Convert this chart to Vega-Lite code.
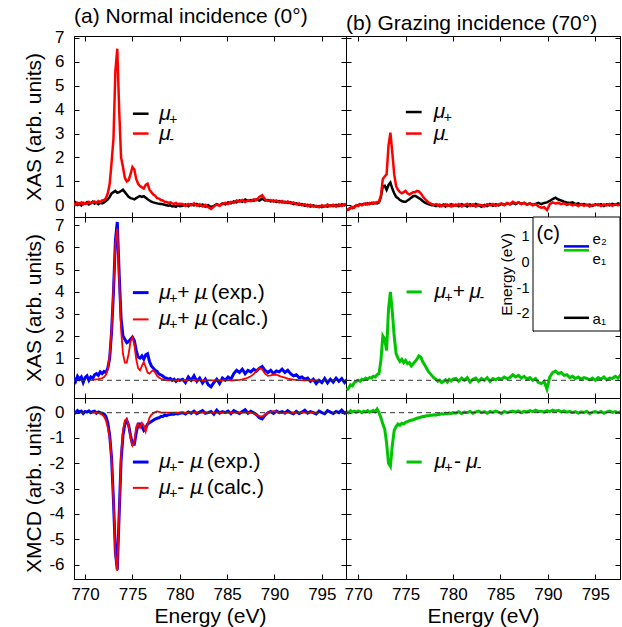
{
"$schema": "https://vega.github.io/schema/vega-lite/v6.json",
"background": "white",
"padding": {"left": 22, "top": 5, "right": 5, "bottom": 2},
"config": {
  "font": "Liberation Sans",
  "view": {"stroke": "black", "strokeWidth": 1},
  "concat": {"spacing": 0},
  "axis": {"grid": false, "domainColor": "black", "tickColor": "black", "tickSize": -5, "labelFont": "Liberation Sans", "labelFontSize": 17, "labelColor": "black", "titleFont": "Liberation Sans", "titleFontSize": 21, "titleFontWeight": "normal", "titleColor": "black", "minExtent": 0},
  "axisX": {"labelPadding": 12},
  "axisY": {"labelPadding": 15},
  "title": {"font": "Liberation Sans", "fontSize": 21, "fontWeight": "normal", "anchor": "start", "frame": "group", "offset": 2, "color": "black"},
  "text": {"font": "Liberation Sans", "color": "black"}
},
"data": {"values": [
{"e":768.8,"a":0.05,"b":0.08,"c":0.1,"f":0.05,"h":-0.2,"i":-0.22,"j":-0.45,"k":0.05},
{"e":769.0,"a":0.12,"b":0.02,"c":-0.05,"f":0.0,"h":-0.18,"i":-0.15,"j":-0.35,"k":0.0},
{"e":769.2,"a":0.02,"b":0.1,"c":0.18,"f":0.08,"h":-0.1,"i":-0.12,"j":-0.2,"k":0.08},
{"e":769.4,"a":0.08,"b":0.05,"c":0.05,"f":0.02,"h":-0.12,"i":-0.08,"j":-0.25,"k":0.03},
{"e":769.6,"a":0.0,"b":0.12,"c":0.15,"f":0.06,"h":-0.05,"i":-0.1,"j":-0.1,"k":0.06},
{"e":769.8,"a":0.1,"b":0.04,"c":-0.1,"f":-0.03,"h":-0.02,"i":0.0,"j":-0.05,"k":0.02},
{"e":770.0,"a":0.06,"b":0.1,"c":0.12,"f":0.05,"h":0.0,"i":-0.03,"j":0.0,"k":0.07},
{"e":770.2,"a":0.13,"b":0.06,"c":0.2,"f":0.02,"h":0.05,"i":0.04,"j":-0.05,"k":0.04},
{"e":770.4,"a":0.04,"b":0.14,"c":0.0,"f":0.07,"h":0.02,"i":0.0,"j":0.05,"k":0.0},
{"e":770.6,"a":0.09,"b":0.08,"c":0.15,"f":0.0,"h":0.06,"i":0.05,"j":0.02,"k":0.06},
{"e":770.8,"a":0.15,"b":0.12,"c":0.08,"d":0.02,"f":0.04,"g":0.0,"h":0.04,"i":0.08,"j":0.1,"k":0.03},
{"e":771.0,"a":0.07,"b":0.16,"c":0.25,"d":0.03,"f":0.06,"g":0.0,"h":0.08,"i":0.03,"j":0.05,"k":0.08},
{"e":771.2,"a":0.12,"b":0.1,"c":0.3,"d":0.04,"f":-0.02,"g":-0.01,"h":0.05,"i":0.1,"j":0.12,"k":0.02},
{"e":771.4,"a":0.05,"b":0.18,"c":0.22,"d":0.05,"f":0.03,"g":-0.02,"h":0.1,"i":0.06,"j":0.1,"k":0.05},
{"e":771.6,"a":0.1,"b":0.13,"c":0.38,"d":0.07,"f":0.0,"g":-0.04,"h":0.07,"i":0.12,"j":0.18,"k":0.09},
{"e":771.8,"a":0.08,"b":0.2,"c":0.3,"d":0.1,"f":-0.02,"g":-0.08,"h":0.1,"i":0.08,"j":0.15,"k":0.04},
{"e":772.0,"a":0.12,"b":0.22,"c":0.4,"d":0.15,"f":-0.05,"g":-0.15,"h":0.08,"i":0.14,"j":0.25,"k":0.14},
{"e":772.2,"a":0.18,"b":0.3,"c":0.35,"d":0.25,"f":-0.15,"g":-0.3,"h":0.12,"i":0.15,"j":0.3,"k":0.0},
{"e":772.4,"a":0.25,"b":0.5,"c":0.55,"d":0.5,"f":-0.4,"g":-0.6,"h":0.35,"i":0.4,"j":0.9,"k":-0.2},
{"e":772.6,"a":0.35,"b":0.9,"c":1.0,"d":1.1,"f":-0.9,"g":-1.0,"h":0.8,"i":1.1,"j":2.0,"k":-0.45},
{"e":772.8,"a":0.5,"b":1.8,"c":2.2,"d":2.3,"f":-1.8,"g":-1.8,"h":0.82,"i":1.2,"j":1.85,"k":-0.65},
{"e":773.0,"a":0.55,"b":2.8,"c":4.0,"d":4.2,"f":-3.5,"g":-3.5,"h":0.65,"i":1.3,"j":1.35,"k":-1.2},
{"e":773.2,"a":0.6,"b":5.6,"c":6.3,"d":6.2,"f":-5.5,"g":-5.6,"h":0.85,"i":2.5,"j":3.2,"k":-2.0},
{"e":773.4,"a":0.52,"b":6.55,"c":7.15,"d":6.85,"f":-6.2,"g":-6.25,"h":0.95,"i":3.04,"j":3.99,"k":-2.12},
{"e":773.6,"a":0.55,"b":4.0,"c":4.8,"d":4.6,"f":-4.0,"g":-4.0,"h":0.7,"i":2.2,"j":3.1,"k":-1.3},
{"e":773.8,"a":0.6,"b":2.0,"c":2.8,"d":2.3,"f":-1.9,"g":-1.7,"h":0.5,"i":1.3,"j":2.0,"k":-0.7},
{"e":774.0,"a":0.65,"b":1.6,"c":2.0,"d":1.2,"f":-0.9,"g":-0.7,"h":0.35,"i":0.8,"j":1.2,"k":-0.55},
{"e":774.2,"a":0.55,"b":1.15,"c":1.85,"d":0.8,"f":-0.45,"g":-0.3,"h":0.3,"i":0.65,"j":1.0,"k":-0.45},
{"e":774.4,"a":0.45,"b":1.0,"c":1.7,"d":0.8,"f":-0.3,"g":-0.25,"h":0.22,"i":0.55,"j":0.85,"k":-0.5},
{"e":774.6,"a":0.35,"b":1.05,"c":1.75,"d":1.2,"f":-0.5,"g":-0.5,"h":0.18,"i":0.5,"j":0.95,"k":-0.42},
{"e":774.8,"a":0.3,"b":1.3,"c":1.85,"d":1.75,"f":-0.9,"g":-1.0,"h":0.15,"i":0.55,"j":0.8,"k":-0.45},
{"e":775.0,"a":0.28,"b":1.6,"c":1.95,"d":1.95,"f":-1.25,"g":-1.3,"h":0.15,"i":0.6,"j":0.9,"k":-0.38},
{"e":775.2,"a":0.25,"b":1.5,"c":1.8,"d":1.6,"f":-1.25,"g":-1.15,"h":0.2,"i":0.5,"j":0.75,"k":-0.35},
{"e":775.4,"a":0.3,"b":1.1,"c":1.35,"d":0.95,"f":-0.8,"g":-0.55,"h":0.25,"i":0.45,"j":0.8,"k":-0.32},
{"e":775.6,"a":0.35,"b":0.9,"c":1.05,"d":0.55,"f":-0.45,"g":-0.45,"h":0.32,"i":0.5,"j":0.65,"k":-0.3},
{"e":775.8,"a":0.38,"b":0.8,"c":1.0,"d":0.45,"f":-0.45,"g":-0.6,"h":0.38,"i":0.55,"j":0.75,"k":-0.28},
{"e":776.0,"a":0.35,"b":0.75,"c":1.1,"d":0.65,"f":-0.55,"g":-0.4,"h":0.4,"i":0.55,"j":0.85,"k":-0.25},
{"e":776.2,"a":0.38,"b":0.7,"c":0.95,"d":0.82,"f":-0.7,"g":-0.5,"h":0.35,"i":0.6,"j":0.95,"k":-0.22},
{"e":776.4,"a":0.32,"b":0.85,"c":1.15,"d":0.6,"f":-0.6,"g":-0.75,"h":0.3,"i":0.58,"j":1.1,"k":-0.2},
{"e":776.6,"a":0.25,"b":0.9,"c":1.2,"d":0.35,"f":-0.45,"g":-0.45,"h":0.25,"i":0.5,"j":1.05,"k":-0.18},
{"e":776.8,"a":0.2,"b":0.65,"c":0.85,"d":0.3,"f":-0.4,"g":-0.2,"h":0.18,"i":0.38,"j":0.85,"k":-0.15},
{"e":777.0,"a":0.15,"b":0.55,"c":0.65,"d":0.4,"f":-0.35,"g":-0.08,"h":0.12,"i":0.28,"j":0.7,"k":-0.15},
{"e":777.2,"a":0.12,"b":0.45,"c":0.55,"d":0.45,"f":-0.3,"g":-0.02,"h":0.08,"i":0.2,"j":0.55,"k":-0.12},
{"e":777.4,"a":0.1,"b":0.4,"c":0.45,"d":0.35,"f":-0.25,"g":0.02,"h":0.05,"i":0.12,"j":0.4,"k":-0.12},
{"e":777.6,"a":0.08,"b":0.3,"c":0.4,"d":0.2,"f":-0.22,"g":0.05,"h":0.02,"i":0.08,"j":0.3,"k":-0.1},
{"e":777.8,"a":0.06,"b":0.28,"c":0.28,"d":0.12,"f":-0.2,"g":0.03,"h":0.0,"i":0.04,"j":0.2,"k":-0.1},
{"e":778.0,"a":0.05,"b":0.22,"c":0.25,"d":0.07,"f":-0.15,"g":0.01,"h":0.0,"i":0.02,"j":0.1,"k":-0.08},
{"e":778.2,"a":0.04,"b":0.2,"c":0.2,"d":0.04,"f":-0.15,"g":0,"h":-0.03,"i":0.05,"j":0.05,"k":-0.1},
{"e":778.4,"a":0.02,"b":0.15,"c":0.12,"d":0.02,"f":-0.1,"g":0,"h":0.02,"i":-0.02,"j":-0.05,"k":-0.06},
{"e":778.6,"a":0.0,"b":0.14,"c":0.1,"d":0.01,"f":-0.12,"g":0,"h":-0.04,"i":0.03,"j":0.0,"k":-0.07},
{"e":778.8,"a":-0.02,"b":0.1,"c":0.05,"d":0,"f":-0.08,"g":0,"h":0.0,"i":-0.04,"j":-0.1,"k":-0.04},
{"e":779.0,"a":0.0,"b":0.12,"c":0.08,"d":0,"f":-0.07,"g":0,"h":0.03,"i":0.0,"j":-0.05,"k":-0.06},
{"e":779.2,"a":-0.05,"b":0.08,"c":0.0,"d":0,"f":-0.05,"g":0,"h":-0.05,"i":0.04,"j":0.02,"k":-0.02},
{"e":779.4,"a":-0.03,"b":0.06,"c":0.05,"d":0,"f":-0.06,"g":0,"h":0.02,"i":-0.03,"j":-0.08,"k":-0.05},
{"e":779.6,"a":-0.06,"b":0.1,"c":-0.05,"d":0,"f":-0.03,"g":0,"h":-0.02,"i":0.02,"j":0.04,"k":-0.01},
{"e":779.8,"a":0.0,"b":0.04,"c":0.03,"d":0,"f":-0.05,"g":0,"h":0.04,"i":-0.05,"j":-0.03,"k":-0.04},
{"e":780.0,"a":-0.04,"b":0.06,"c":0.0,"d":0,"f":-0.02,"g":0,"h":-0.03,"i":0.03,"j":0.05,"k":0.0},
{"e":780.3,"a":-0.02,"b":0.05,"c":0.05,"d":0,"f":0.0,"g":0,"h":0.03,"i":-0.02,"j":0.08,"k":-0.02},
{"e":780.6,"a":0.04,"b":-0.03,"c":-0.1,"d":0,"f":-0.05,"g":0,"h":-0.04,"i":0.05,"j":-0.05,"k":0.04},
{"e":780.9,"a":-0.04,"b":0.06,"c":0.15,"d":0,"f":0.03,"g":0,"h":0.05,"i":-0.05,"j":0.1,"k":-0.03},
{"e":781.2,"a":0.05,"b":0.0,"c":0.0,"d":0,"f":-0.02,"g":0,"h":0.0,"i":0.02,"j":0.0,"k":0.02},
{"e":781.5,"a":0.0,"b":0.08,"c":0.2,"d":0,"f":0.06,"g":0,"h":-0.05,"i":0.06,"j":0.12,"k":0.0},
{"e":781.8,"a":0.06,"b":-0.02,"c":-0.05,"d":0,"f":-0.04,"g":0,"h":0.04,"i":-0.03,"j":-0.08,"k":0.05},
{"e":782.1,"a":-0.03,"b":0.04,"c":0.1,"d":0,"f":0.02,"g":0,"h":-0.02,"i":0.04,"j":0.05,"k":-0.02},
{"e":782.4,"a":0.03,"b":-0.05,"c":-0.12,"d":0,"f":0.08,"g":0,"h":0.06,"i":-0.06,"j":0.1,"k":0.03},
{"e":782.7,"a":-0.06,"b":0.02,"c":0.05,"d":0,"f":-0.03,"g":0,"h":0.0,"i":0.03,"j":-0.05,"k":0.06},
{"e":783.0,"a":0.0,"b":-0.08,"c":-0.2,"d":0,"f":0.0,"g":0,"h":-0.06,"i":0.0,"j":0.08,"k":0.0},
{"e":783.3,"a":-0.08,"b":-0.15,"c":-0.3,"d":0,"f":0.05,"g":0,"h":0.02,"i":-0.04,"j":0.0,"k":0.04},
{"e":783.6,"a":-0.02,"b":-0.05,"c":-0.1,"d":0,"f":-0.06,"g":0,"h":-0.03,"i":0.05,"j":0.12,"k":-0.02},
{"e":783.9,"a":0.05,"b":0.03,"c":0.05,"d":0,"f":0.1,"g":0,"h":0.05,"i":0.0,"j":-0.05,"k":0.05},
{"e":784.2,"a":0.0,"b":-0.02,"c":-0.15,"d":0,"f":-0.02,"g":0,"h":-0.02,"i":0.06,"j":0.08,"k":0.01},
{"e":784.5,"a":0.08,"b":0.06,"c":0.1,"d":0,"f":0.04,"g":0,"h":0.04,"i":-0.02,"j":0.02,"k":0.06},
{"e":784.8,"a":0.04,"b":0.1,"c":0.0,"d":0,"f":0.0,"g":0,"h":0.0,"i":0.04,"j":0.1,"k":0.02},
{"e":785.1,"a":0.12,"b":0.05,"c":0.15,"d":0,"f":0.06,"g":0,"h":0.06,"i":0.08,"j":0.05,"k":-0.03},
{"e":785.4,"a":0.08,"b":0.14,"c":0.05,"d":0,"f":-0.04,"g":0,"h":0.02,"i":0.0,"j":0.15,"k":0.05},
{"e":785.7,"a":0.16,"b":0.1,"c":0.3,"d":0,"f":0.08,"g":0,"h":0.08,"i":0.1,"j":0.08,"k":0.0},
{"e":786.0,"a":0.12,"b":0.2,"c":0.45,"d":0.01,"f":0.02,"g":0,"h":0.04,"i":0.05,"j":0.12,"k":0.04},
{"e":786.3,"a":0.2,"b":0.15,"c":0.35,"d":0.02,"f":-0.03,"g":0,"h":0.1,"i":0.15,"j":0.25,"k":0.06},
{"e":786.6,"a":0.15,"b":0.22,"c":0.5,"d":0.04,"f":0.05,"g":0,"h":0.05,"i":0.08,"j":0.15,"k":0.02},
{"e":786.9,"a":0.24,"b":0.14,"c":0.3,"d":0.07,"f":0.12,"g":0,"h":0.12,"i":0.12,"j":0.22,"k":0.07},
{"e":787.2,"a":0.18,"b":0.2,"c":0.45,"d":0.12,"f":-0.02,"g":0,"h":0.06,"i":0.05,"j":0.1,"k":0.0},
{"e":787.5,"a":0.22,"b":0.17,"c":0.38,"d":0.18,"f":0.06,"g":0,"h":0.1,"i":0.1,"j":0.18,"k":0.05},
{"e":787.8,"a":0.18,"b":0.25,"c":0.5,"d":0.28,"f":0.0,"g":-0.03,"h":0.04,"i":0.02,"j":0.05,"k":0.03},
{"e":788.1,"a":0.25,"b":0.22,"c":0.42,"d":0.42,"f":-0.08,"g":-0.08,"h":0.08,"i":0.08,"j":0.12,"k":0.08},
{"e":788.4,"a":0.2,"b":0.35,"c":0.55,"d":0.55,"f":-0.2,"g":-0.14,"h":0.02,"i":0.0,"j":0.0,"k":0.04},
{"e":788.7,"a":0.28,"b":0.42,"c":0.62,"d":0.5,"f":-0.25,"g":-0.15,"h":0.06,"i":0.05,"j":0.08,"k":0.1},
{"e":789.0,"a":0.2,"b":0.25,"c":0.45,"d":0.3,"f":-0.1,"g":-0.08,"h":0.1,"i":-0.05,"j":-0.1,"k":0.05},
{"e":789.3,"a":0.22,"b":0.18,"c":0.35,"d":0.2,"f":0.0,"g":0.0,"h":0.05,"i":-0.1,"j":-0.15,"k":0.06},
{"e":789.6,"a":0.16,"b":0.22,"c":0.45,"d":0.22,"f":0.05,"g":0.04,"h":0.1,"i":-0.08,"j":-0.05,"k":0.02},
{"e":789.9,"a":0.2,"b":0.15,"c":0.3,"d":0.26,"f":-0.03,"g":0.06,"h":0.12,"i":-0.2,"j":-0.4,"k":0.08},
{"e":790.2,"a":0.14,"b":0.2,"c":0.42,"d":0.25,"f":0.06,"g":0.04,"h":0.18,"i":0.05,"j":0.15,"k":0.04},
{"e":790.5,"a":0.18,"b":0.12,"c":0.38,"d":0.2,"f":0.0,"g":0.0,"h":0.26,"i":0.12,"j":0.35,"k":0.1},
{"e":790.8,"a":0.12,"b":0.18,"c":0.5,"d":0.15,"f":0.04,"g":-0.02,"h":0.32,"i":0.08,"j":0.42,"k":0.06},
{"e":791.1,"a":0.15,"b":0.1,"c":0.35,"d":0.12,"f":-0.02,"g":-0.02,"h":0.24,"i":0.1,"j":0.3,"k":0.09},
{"e":791.4,"a":0.1,"b":0.16,"c":0.45,"d":0.08,"f":0.08,"g":0.0,"h":0.2,"i":0.05,"j":0.35,"k":0.03},
{"e":791.7,"a":0.12,"b":0.08,"c":0.3,"d":0.05,"f":0.0,"g":0,"h":0.15,"i":0.08,"j":0.22,"k":0.07},
{"e":792.0,"a":0.05,"b":0.12,"c":0.2,"d":0.03,"f":-0.04,"g":0,"h":0.12,"i":0.02,"j":0.25,"k":0.02},
{"e":792.3,"a":0.08,"b":0.04,"c":0.25,"d":0.02,"f":0.05,"g":0,"h":0.1,"i":0.06,"j":0.12,"k":0.05},
{"e":792.6,"a":0.02,"b":0.08,"c":0.12,"d":0.01,"f":-0.03,"g":0,"h":0.12,"i":0.0,"j":0.18,"k":0.0},
{"e":792.9,"a":0.05,"b":0.0,"c":0.15,"d":0,"f":0.02,"g":0,"h":0.05,"i":0.04,"j":0.08,"k":0.04},
{"e":793.2,"a":-0.02,"b":0.05,"c":0.05,"d":0,"f":0.1,"g":0,"h":0.08,"i":-0.03,"j":0.15,"k":-0.02},
{"e":793.5,"a":0.02,"b":-0.04,"c":0.1,"d":0,"f":-0.02,"g":0,"h":0.02,"i":0.05,"j":0.05,"k":0.03},
{"e":793.8,"a":-0.05,"b":0.02,"c":-0.05,"d":0,"f":0.04,"g":0,"h":0.05,"i":-0.02,"j":0.12,"k":0.01},
{"e":794.1,"a":0.0,"b":-0.06,"c":0.05,"d":0,"f":0.0,"g":0,"h":0.0,"i":0.03,"j":0.08,"k":0.05},
{"e":794.4,"a":-0.06,"b":-0.02,"c":-0.15,"d":0,"f":-0.05,"g":0,"h":0.03,"i":-0.05,"j":0.02,"k":-0.03},
{"e":794.7,"a":-0.03,"b":-0.08,"c":0.0,"d":0,"f":0.06,"g":0,"h":-0.02,"i":0.02,"j":0.1,"k":0.02},
{"e":795.0,"a":-0.08,"b":0.0,"c":-0.1,"f":0.0,"h":0.04,"i":0.0,"j":0.0,"k":0.04},
{"e":795.3,"a":-0.02,"b":-0.05,"c":0.08,"f":-0.04,"h":0.0,"i":0.05,"j":0.12,"k":0.0},
{"e":795.6,"a":-0.06,"b":0.03,"c":-0.12,"f":0.08,"h":0.05,"i":-0.03,"j":0.05,"k":0.05},
{"e":795.9,"a":0.0,"b":-0.04,"c":0.05,"f":0.02,"h":-0.03,"i":0.04,"j":0.15,"k":-0.02},
{"e":796.2,"a":-0.04,"b":0.02,"c":-0.08,"f":-0.03,"h":0.04,"i":0.0,"j":0.02,"k":0.03},
{"e":796.5,"a":0.02,"b":-0.06,"c":0.1,"f":0.05,"h":0.0,"i":0.06,"j":0.1,"k":0.06},
{"e":796.8,"a":-0.03,"b":0.04,"c":-0.05,"f":0.0,"h":0.06,"i":-0.02,"j":0.08,"k":0.01},
{"e":797.1,"a":0.04,"b":-0.03,"c":0.08,"f":0.1,"h":0.02,"i":0.05,"j":0.18,"k":0.04},
{"e":797.4,"a":0.0,"b":0.05,"c":-0.1,"f":-0.02,"h":0.08,"i":0.0,"j":0.1,"k":0.0},
{"e":797.7,"a":0.06,"b":0.0,"c":0.05,"f":0.04,"h":0.04,"i":0.08,"j":0.25,"k":0.05}
]},
"columns": 2,
"spacing": 0,
"bounds": "flush",
"align": "each",
"concat": [
  {"width": 272, "height": 181,
   "title": {"text": "(a) Normal incidence (0°)"},
   "resolve": {"axis": {"x": "independent", "y": "independent"}},
   "layer": [
    {"mark": {"type": "line", "color": "black", "strokeWidth": 2.5, "clip": true},
     "encoding": {"x": {"field": "e", "type": "quantitative", "scale": {"domain": [768.83, 797.55]}, "axis": {"orient": "bottom", "values": [770,775,780,785,790,795], "labels": false, "title": null}},
                  "y": {"field": "a", "type": "quantitative", "scale": {"domain": [-0.49, 7.08]}, "axis": {"orient": "left", "values": [0,1,2,3,4,5,6,7], "title": "XAS (arb. units)", "minExtent": 30, "maxExtent": 30, "titlePadding": 0}}}},
    {"mark": {"type": "line", "color": "red", "strokeWidth": 2.5, "clip": true},
     "encoding": {"x": {"field": "e", "type": "quantitative", "scale": {"domain": [768.83, 797.55]}, "axis": {"orient": "top", "values": [770,775,780,785,790,795], "labels": false, "title": null}},
                  "y": {"field": "b", "type": "quantitative", "scale": {"domain": [-0.49, 7.08]}, "axis": {"orient": "right", "values": [0,1,2,3,4,5,6,7], "labels": false, "title": null}}}},
    {"data": {"values": [{"x1": 775.05, "x2": 776.7, "y": 3.83}]},
     "mark": {"type": "rule", "color": "black", "strokeWidth": 2.5},
     "encoding": {"x": {"field": "x1", "type": "quantitative", "scale": {"domain": [768.83, 797.55]}, "axis": null}, "x2": {"field": "x2"},
                  "y": {"field": "y", "type": "quantitative", "scale": {"domain": [-0.49, 7.08]}, "axis": null}}},
    {"data": {"values": [{"x1": 775.05, "x2": 776.7, "y": 3.0}]},
     "mark": {"type": "rule", "color": "red", "strokeWidth": 2.5},
     "encoding": {"x": {"field": "x1", "type": "quantitative", "scale": {"domain": [768.83, 797.55]}, "axis": null}, "x2": {"field": "x2"},
                  "y": {"field": "y", "type": "quantitative", "scale": {"domain": [-0.49, 7.08]}, "axis": null}}},
    {"data": {"values": [{"x": 777.84, "y": 3.83, "t": "μ"}, {"x": 777.84, "y": 3.0, "t": "μ"}]},
     "mark": {"type": "text", "align": "left", "baseline": "middle", "fontSize": 21, "fontStyle": "italic"},
     "encoding": {"x": {"field": "x", "type": "quantitative", "scale": {"domain": [768.83, 797.55]}, "axis": null},
                  "y": {"field": "y", "type": "quantitative", "scale": {"domain": [-0.49, 7.08]}, "axis": null}, "text": {"field": "t"}}},
    {"data": {"values": [{"x": 778.9, "y": 3.83, "t": "+"}, {"x": 778.9, "y": 3.0, "t": "-"}]},
     "mark": {"type": "text", "align": "left", "baseline": "middle", "fontSize": 14, "dy": 6},
     "encoding": {"x": {"field": "x", "type": "quantitative", "scale": {"domain": [768.83, 797.55]}, "axis": null},
                  "y": {"field": "y", "type": "quantitative", "scale": {"domain": [-0.49, 7.08]}, "axis": null}, "text": {"field": "t"}}}
   ]},
  {"width": 274, "height": 181,
   "title": {"text": "(b) Grazing incidence (70°)"},
   "resolve": {"axis": {"x": "independent", "y": "independent"}},
   "layer": [
    {"mark": {"type": "line", "color": "black", "strokeWidth": 2.5, "clip": true},
     "encoding": {"x": {"field": "e", "type": "quantitative", "scale": {"domain": [768.72, 797.6]}, "axis": {"orient": "bottom", "values": [770,775,780,785,790,795], "labels": false, "title": null}},
                  "y": {"field": "h", "type": "quantitative", "scale": {"domain": [-0.49, 7.08]}, "axis": {"orient": "left", "values": [0,1,2,3,4,5,6,7], "labels": false, "title": null}}}},
    {"mark": {"type": "line", "color": "red", "strokeWidth": 2.5, "clip": true},
     "encoding": {"x": {"field": "e", "type": "quantitative", "scale": {"domain": [768.72, 797.6]}, "axis": {"orient": "top", "values": [770,775,780,785,790,795], "labels": false, "title": null}},
                  "y": {"field": "i", "type": "quantitative", "scale": {"domain": [-0.49, 7.08]}, "axis": {"orient": "right", "values": [0,1,2,3,4,5,6,7], "labels": false, "title": null}}}},
    {"data": {"values": [{"x1": 775.03, "x2": 776.69, "y": 3.9}]},
     "mark": {"type": "rule", "color": "black", "strokeWidth": 2.5},
     "encoding": {"x": {"field": "x1", "type": "quantitative", "scale": {"domain": [768.72, 797.6]}, "axis": null}, "x2": {"field": "x2"},
                  "y": {"field": "y", "type": "quantitative", "scale": {"domain": [-0.49, 7.08]}, "axis": null}}},
    {"data": {"values": [{"x1": 775.03, "x2": 776.69, "y": 3.0}]},
     "mark": {"type": "rule", "color": "red", "strokeWidth": 2.5},
     "encoding": {"x": {"field": "x1", "type": "quantitative", "scale": {"domain": [768.72, 797.6]}, "axis": null}, "x2": {"field": "x2"},
                  "y": {"field": "y", "type": "quantitative", "scale": {"domain": [-0.49, 7.08]}, "axis": null}}},
    {"data": {"values": [{"x": 777.96, "y": 3.9, "t": "μ"}, {"x": 777.96, "y": 3.0, "t": "μ"}]},
     "mark": {"type": "text", "align": "left", "baseline": "middle", "fontSize": 21, "fontStyle": "italic"},
     "encoding": {"x": {"field": "x", "type": "quantitative", "scale": {"domain": [768.72, 797.6]}, "axis": null},
                  "y": {"field": "y", "type": "quantitative", "scale": {"domain": [-0.49, 7.08]}, "axis": null}, "text": {"field": "t"}}},
    {"data": {"values": [{"x": 779.02, "y": 3.9, "t": "+"}, {"x": 779.02, "y": 3.0, "t": "-"}]},
     "mark": {"type": "text", "align": "left", "baseline": "middle", "fontSize": 14, "dy": 6},
     "encoding": {"x": {"field": "x", "type": "quantitative", "scale": {"domain": [768.72, 797.6]}, "axis": null},
                  "y": {"field": "y", "type": "quantitative", "scale": {"domain": [-0.49, 7.08]}, "axis": null}, "text": {"field": "t"}}}
   ]},
  {"width": 272, "height": 181,
   "resolve": {"axis": {"x": "independent", "y": "independent"}},
   "layer": [
    {"mark": {"type": "line", "color": "blue", "strokeWidth": 3, "clip": true},
     "encoding": {"x": {"field": "e", "type": "quantitative", "scale": {"domain": [768.83, 797.55]}, "axis": {"orient": "bottom", "values": [770,775,780,785,790,795], "labels": false, "title": null}},
                  "y": {"field": "c", "type": "quantitative", "scale": {"domain": [-0.8, 7.375]}, "axis": {"orient": "left", "values": [0,1,2,3,4,5,6,7], "title": "XAS (arb. units)", "minExtent": 30, "maxExtent": 30, "titlePadding": 0}}}},
    {"mark": {"type": "line", "color": "red", "strokeWidth": 1.8, "clip": true},
     "encoding": {"x": {"field": "e", "type": "quantitative", "scale": {"domain": [768.83, 797.55]}, "axis": {"orient": "top", "values": [770,775,780,785,790,795], "labels": false, "title": null}},
                  "y": {"field": "d", "type": "quantitative", "scale": {"domain": [-0.8, 7.375]}, "axis": {"orient": "right", "values": [0,1,2,3,4,5,6,7], "labels": false, "title": null}}}},
    {"data": {"values": [{"z": 0}]},
     "mark": {"type": "rule", "color": "#333", "strokeWidth": 1, "strokeDash": [5, 4]},
     "encoding": {"y": {"field": "z", "type": "quantitative", "scale": {"domain": [-0.8, 7.375]}, "axis": null}}},
    {"data": {"values": [{"x1": 775.05, "x2": 776.7, "y": 3.96}]},
     "mark": {"type": "rule", "color": "blue", "strokeWidth": 3},
     "encoding": {"x": {"field": "x1", "type": "quantitative", "scale": {"domain": [768.83, 797.55]}, "axis": null}, "x2": {"field": "x2"},
                  "y": {"field": "y", "type": "quantitative", "scale": {"domain": [-0.8, 7.375]}, "axis": null}}},
    {"data": {"values": [{"x1": 775.05, "x2": 776.7, "y": 2.75}]},
     "mark": {"type": "rule", "color": "red", "strokeWidth": 2},
     "encoding": {"x": {"field": "x1", "type": "quantitative", "scale": {"domain": [768.83, 797.55]}, "axis": null}, "x2": {"field": "x2"},
                  "y": {"field": "y", "type": "quantitative", "scale": {"domain": [-0.8, 7.375]}, "axis": null}}},
    {"data": {"values": [{"x": 777.84, "y": 3.96, "t": "μ"}, {"x": 781.6, "y": 3.96, "t": "μ"}, {"x": 777.84, "y": 2.75, "t": "μ"}, {"x": 781.6, "y": 2.75, "t": "μ"}]},
     "mark": {"type": "text", "align": "left", "baseline": "middle", "fontSize": 21, "fontStyle": "italic"},
     "encoding": {"x": {"field": "x", "type": "quantitative", "scale": {"domain": [768.83, 797.55]}, "axis": null},
                  "y": {"field": "y", "type": "quantitative", "scale": {"domain": [-0.8, 7.375]}, "axis": null}, "text": {"field": "t"}}},
    {"data": {"values": [{"x": 779.72, "y": 3.96, "t": "+"}, {"x": 783.3, "y": 3.96, "t": "(exp.)"}, {"x": 779.72, "y": 2.75, "t": "+"}, {"x": 783.3, "y": 2.75, "t": "(calc.)"}]},
     "mark": {"type": "text", "align": "left", "baseline": "middle", "fontSize": 21},
     "encoding": {"x": {"field": "x", "type": "quantitative", "scale": {"domain": [768.83, 797.55]}, "axis": null},
                  "y": {"field": "y", "type": "quantitative", "scale": {"domain": [-0.8, 7.375]}, "axis": null}, "text": {"field": "t"}}},
    {"data": {"values": [{"x": 778.9, "y": 3.96, "t": "+"}, {"x": 782.5, "y": 3.96, "t": "-"}, {"x": 778.9, "y": 2.75, "t": "+"}, {"x": 782.5, "y": 2.75, "t": "-"}]},
     "mark": {"type": "text", "align": "left", "baseline": "middle", "fontSize": 14, "dy": 6},
     "encoding": {"x": {"field": "x", "type": "quantitative", "scale": {"domain": [768.83, 797.55]}, "axis": null},
                  "y": {"field": "y", "type": "quantitative", "scale": {"domain": [-0.8, 7.375]}, "axis": null}, "text": {"field": "t"}}}
   ]},
  {"width": 274, "height": 181,
   "resolve": {"scale": {"x": "independent", "y": "independent"}, "axis": {"x": "independent", "y": "independent"}},
   "layer": [
    {"mark": {"type": "line", "color": "#00c400", "strokeWidth": 3, "clip": true},
     "encoding": {"x": {"field": "e", "type": "quantitative", "scale": {"domain": [768.72, 797.6]}, "axis": {"orient": "bottom", "values": [770,775,780,785,790,795], "labels": false, "title": null}},
                  "y": {"field": "j", "type": "quantitative", "scale": {"domain": [-0.8, 7.375]}, "axis": {"orient": "left", "values": [0,1,2,3,4,5,6,7], "labels": false, "title": null}}}},
    {"data": {"values": [{"z": 0}]},
     "mark": {"type": "rule", "color": "#333", "strokeWidth": 1, "strokeDash": [5, 4]},
     "encoding": {"y": {"field": "z", "type": "quantitative", "scale": {"domain": [-0.8, 7.375]}, "axis": {"orient": "right", "values": [0,1,2,3,4,5,6,7], "labels": false, "title": null}}}},
    {"data": {"values": [{"x1": 775.1, "x2": 776.7, "y": 3.99}]},
     "mark": {"type": "rule", "color": "#00c400", "strokeWidth": 3},
     "encoding": {"x": {"field": "x1", "type": "quantitative", "scale": {"domain": [768.72, 797.6]}, "axis": {"orient": "top", "values": [770,775,780,785,790,795], "labels": false, "title": null}}, "x2": {"field": "x2"},
                  "y": {"field": "y", "type": "quantitative", "scale": {"domain": [-0.8, 7.375]}, "axis": null}}},
    {"data": {"values": [{"x": 778.04, "y": 3.99, "t": "μ"}, {"x": 781.75, "y": 3.99, "t": "μ"}]},
     "mark": {"type": "text", "align": "left", "baseline": "middle", "fontSize": 21, "fontStyle": "italic"},
     "encoding": {"x": {"field": "x", "type": "quantitative", "scale": {"domain": [768.72, 797.6]}, "axis": null},
                  "y": {"field": "y", "type": "quantitative", "scale": {"domain": [-0.8, 7.375]}, "axis": null}, "text": {"field": "t"}}},
    {"data": {"values": [{"x": 779.98, "y": 3.99, "t": "+"}]},
     "mark": {"type": "text", "align": "left", "baseline": "middle", "fontSize": 21},
     "encoding": {"x": {"field": "x", "type": "quantitative", "scale": {"domain": [768.72, 797.6]}, "axis": null},
                  "y": {"field": "y", "type": "quantitative", "scale": {"domain": [-0.8, 7.375]}, "axis": null}, "text": {"field": "t"}}},
    {"data": {"values": [{"x": 779.1, "y": 3.99, "t": "+"}, {"x": 782.8, "y": 3.99, "t": "-"}]},
     "mark": {"type": "text", "align": "left", "baseline": "middle", "fontSize": 14, "dy": 6},
     "encoding": {"x": {"field": "x", "type": "quantitative", "scale": {"domain": [768.72, 797.6]}, "axis": null},
                  "y": {"field": "y", "type": "quantitative", "scale": {"domain": [-0.8, 7.375]}, "axis": null}, "text": {"field": "t"}}},
    {"data": {"values": [{"x1": 0, "x2": 1, "y1": -2.66, "y2": 1.75}]},
     "mark": {"type": "rect", "fill": "white", "stroke": "black", "strokeWidth": 1},
     "encoding": {"x": {"field": "x1", "type": "quantitative", "scale": {"domain": [0, 1], "range": [187, 274]}, "axis": null}, "x2": {"field": "x2"},
                  "y": {"field": "y1", "type": "quantitative", "scale": {"domain": [-2.66, 1.75], "range": [114, 0]}, "axis": {"orient": "left", "offset": -187, "values": [1,0,-1,-2], "title": "Energy (eV)", "titleFontSize": 15.5, "labelFontSize": 14.5, "tickSize": -4, "labelPadding": 8, "minExtent": 18, "maxExtent": 18, "titlePadding": 1, "labelExpr": "replace(datum.label, '−', '-')"}}, "y2": {"field": "y2"}}},
    {"data": {"values": [{"x1": 0.356, "x2": 0.644, "y": 0.614}]},
     "mark": {"type": "rule", "color": "blue", "strokeWidth": 2.5},
     "encoding": {"x": {"field": "x1", "type": "quantitative", "scale": {"domain": [0, 1], "range": [187, 274]}, "axis": null}, "x2": {"field": "x2"},
                  "y": {"field": "y", "type": "quantitative", "scale": {"domain": [-2.66, 1.75], "range": [114, 0]}, "axis": {"orient": "right", "values": [1,0,-1,-2], "labels": false, "title": null, "tickSize": -4}}}},
    {"data": {"values": [{"x1": 0.356, "x2": 0.644, "y": 0.46}]},
     "mark": {"type": "rule", "color": "#00c400", "strokeWidth": 2.5},
     "encoding": {"x": {"field": "x1", "type": "quantitative", "scale": {"domain": [0, 1], "range": [187, 274]}, "axis": null}, "x2": {"field": "x2"},
                  "y": {"field": "y", "type": "quantitative", "scale": {"domain": [-2.66, 1.75], "range": [114, 0]}, "axis": null}}},
    {"data": {"values": [{"x1": 0.356, "x2": 0.644, "y": -2.15}]},
     "mark": {"type": "rule", "color": "black", "strokeWidth": 2.5},
     "encoding": {"x": {"field": "x1", "type": "quantitative", "scale": {"domain": [0, 1], "range": [187, 274]}, "axis": null}, "x2": {"field": "x2"},
                  "y": {"field": "y", "type": "quantitative", "scale": {"domain": [-2.66, 1.75], "range": [114, 0]}, "axis": null}}},
    {"data": {"values": [{"x": 0.685, "y": 0.89, "t": "e₂"}, {"x": 0.685, "y": 0.13, "t": "e₁"}, {"x": 0.685, "y": -2.19, "t": "a₁"}]},
     "mark": {"type": "text", "align": "left", "baseline": "middle", "fontSize": 15},
     "encoding": {"x": {"field": "x", "type": "quantitative", "scale": {"domain": [0, 1], "range": [187, 274]}, "axis": null},
                  "y": {"field": "y", "type": "quantitative", "scale": {"domain": [-2.66, 1.75], "range": [114, 0]}, "axis": null}, "text": {"field": "t"}}},
    {"data": {"values": [{"x": 0.04, "y": 1.1, "t": "(c)"}]},
     "mark": {"type": "text", "align": "left", "baseline": "middle", "fontSize": 20},
     "encoding": {"x": {"field": "x", "type": "quantitative", "scale": {"domain": [0, 1], "range": [187, 274]}, "axis": null},
                  "y": {"field": "y", "type": "quantitative", "scale": {"domain": [-2.66, 1.75], "range": [114, 0]}, "axis": null}, "text": {"field": "t"}}}
   ]},
  {"width": 272, "height": 181,
   "resolve": {"axis": {"x": "independent", "y": "independent"}},
   "layer": [
    {"mark": {"type": "line", "color": "blue", "strokeWidth": 3, "clip": true},
     "encoding": {"x": {"field": "e", "type": "quantitative", "scale": {"domain": [768.83, 797.55]}, "axis": {"orient": "bottom", "values": [770,775,780,785,790,795], "title": "Energy (eV)", "titlePadding": 3}},
                  "y": {"field": "f", "type": "quantitative", "scale": {"domain": [-6.57, 0.58]}, "axis": {"orient": "left", "values": [-6,-5,-4,-3,-2,-1,0], "title": "XMCD (arb. units)", "minExtent": 30, "maxExtent": 30, "titlePadding": 0, "labelExpr": "replace(datum.label, '−', '-')"}}}},
    {"mark": {"type": "line", "color": "red", "strokeWidth": 1.8, "clip": true},
     "encoding": {"x": {"field": "e", "type": "quantitative", "scale": {"domain": [768.83, 797.55]}, "axis": {"orient": "top", "values": [770,775,780,785,790,795], "labels": false, "title": null}},
                  "y": {"field": "g", "type": "quantitative", "scale": {"domain": [-6.57, 0.58]}, "axis": {"orient": "right", "values": [-6,-5,-4,-3,-2,-1,0], "labels": false, "title": null}}}},
    {"data": {"values": [{"z": 0}]},
     "mark": {"type": "rule", "color": "#333", "strokeWidth": 1, "strokeDash": [5, 4]},
     "encoding": {"y": {"field": "z", "type": "quantitative", "scale": {"domain": [-6.57, 0.58]}, "axis": null}}},
    {"data": {"values": [{"x1": 775.05, "x2": 776.7, "y": -1.95}]},
     "mark": {"type": "rule", "color": "blue", "strokeWidth": 3},
     "encoding": {"x": {"field": "x1", "type": "quantitative", "scale": {"domain": [768.83, 797.55]}, "axis": null}, "x2": {"field": "x2"},
                  "y": {"field": "y", "type": "quantitative", "scale": {"domain": [-6.57, 0.58]}, "axis": null}}},
    {"data": {"values": [{"x1": 775.05, "x2": 776.7, "y": -2.97}]},
     "mark": {"type": "rule", "color": "red", "strokeWidth": 2},
     "encoding": {"x": {"field": "x1", "type": "quantitative", "scale": {"domain": [768.83, 797.55]}, "axis": null}, "x2": {"field": "x2"},
                  "y": {"field": "y", "type": "quantitative", "scale": {"domain": [-6.57, 0.58]}, "axis": null}}},
    {"data": {"values": [{"x": 777.84, "y": -1.95, "t": "μ"}, {"x": 781.12, "y": -1.95, "t": "μ"}, {"x": 777.84, "y": -2.97, "t": "μ"}, {"x": 781.12, "y": -2.97, "t": "μ"}]},
     "mark": {"type": "text", "align": "left", "baseline": "middle", "fontSize": 21, "fontStyle": "italic"},
     "encoding": {"x": {"field": "x", "type": "quantitative", "scale": {"domain": [768.83, 797.55]}, "axis": null},
                  "y": {"field": "y", "type": "quantitative", "scale": {"domain": [-6.57, 0.58]}, "axis": null}, "text": {"field": "t"}}},
    {"data": {"values": [{"x": 779.72, "y": -1.95, "t": "-"}, {"x": 782.85, "y": -1.95, "t": "(exp.)"}, {"x": 779.72, "y": -2.97, "t": "-"}, {"x": 782.85, "y": -2.97, "t": "(calc.)"}]},
     "mark": {"type": "text", "align": "left", "baseline": "middle", "fontSize": 21},
     "encoding": {"x": {"field": "x", "type": "quantitative", "scale": {"domain": [768.83, 797.55]}, "axis": null},
                  "y": {"field": "y", "type": "quantitative", "scale": {"domain": [-6.57, 0.58]}, "axis": null}, "text": {"field": "t"}}},
    {"data": {"values": [{"x": 778.9, "y": -1.95, "t": "+"}, {"x": 782.05, "y": -1.95, "t": "-"}, {"x": 778.9, "y": -2.97, "t": "+"}, {"x": 782.05, "y": -2.97, "t": "-"}]},
     "mark": {"type": "text", "align": "left", "baseline": "middle", "fontSize": 14, "dy": 6},
     "encoding": {"x": {"field": "x", "type": "quantitative", "scale": {"domain": [768.83, 797.55]}, "axis": null},
                  "y": {"field": "y", "type": "quantitative", "scale": {"domain": [-6.57, 0.58]}, "axis": null}, "text": {"field": "t"}}}
   ]},
  {"width": 274, "height": 181,
   "resolve": {"axis": {"x": "independent", "y": "independent"}},
   "layer": [
    {"mark": {"type": "line", "color": "#00c400", "strokeWidth": 3, "clip": true},
     "encoding": {"x": {"field": "e", "type": "quantitative", "scale": {"domain": [768.72, 797.6]}, "axis": {"orient": "bottom", "values": [770,775,780,785,790,795], "title": "Energy (eV)", "titlePadding": 3}},
                  "y": {"field": "k", "type": "quantitative", "scale": {"domain": [-6.57, 0.58]}, "axis": {"orient": "left", "values": [-6,-5,-4,-3,-2,-1,0], "labels": false, "title": null}}}},
    {"data": {"values": [{"z": 0}]},
     "mark": {"type": "rule", "color": "#333", "strokeWidth": 1, "strokeDash": [5, 4]},
     "encoding": {"y": {"field": "z", "type": "quantitative", "scale": {"domain": [-6.57, 0.58]}, "axis": {"orient": "right", "values": [-6,-5,-4,-3,-2,-1,0], "labels": false, "title": null}}}},
    {"data": {"values": [{"x1": 775.1, "x2": 776.7, "y": -1.95}]},
     "mark": {"type": "rule", "color": "#00c400", "strokeWidth": 3},
     "encoding": {"x": {"field": "x1", "type": "quantitative", "scale": {"domain": [768.72, 797.6]}, "axis": {"orient": "top", "values": [770,775,780,785,790,795], "labels": false, "title": null}}, "x2": {"field": "x2"},
                  "y": {"field": "y", "type": "quantitative", "scale": {"domain": [-6.57, 0.58]}, "axis": null}}},
    {"data": {"values": [{"x": 778.04, "y": -1.95, "t": "μ"}, {"x": 781.4, "y": -1.95, "t": "μ"}]},
     "mark": {"type": "text", "align": "left", "baseline": "middle", "fontSize": 21, "fontStyle": "italic"},
     "encoding": {"x": {"field": "x", "type": "quantitative", "scale": {"domain": [768.72, 797.6]}, "axis": null},
                  "y": {"field": "y", "type": "quantitative", "scale": {"domain": [-6.57, 0.58]}, "axis": null}, "text": {"field": "t"}}},
    {"data": {"values": [{"x": 780.1, "y": -1.95, "t": "-"}]},
     "mark": {"type": "text", "align": "left", "baseline": "middle", "fontSize": 21},
     "encoding": {"x": {"field": "x", "type": "quantitative", "scale": {"domain": [768.72, 797.6]}, "axis": null},
                  "y": {"field": "y", "type": "quantitative", "scale": {"domain": [-6.57, 0.58]}, "axis": null}, "text": {"field": "t"}}},
    {"data": {"values": [{"x": 779.1, "y": -1.95, "t": "+"}, {"x": 782.5, "y": -1.95, "t": "-"}]},
     "mark": {"type": "text", "align": "left", "baseline": "middle", "fontSize": 14, "dy": 6},
     "encoding": {"x": {"field": "x", "type": "quantitative", "scale": {"domain": [768.72, 797.6]}, "axis": null},
                  "y": {"field": "y", "type": "quantitative", "scale": {"domain": [-6.57, 0.58]}, "axis": null}, "text": {"field": "t"}}}
   ]}
]
}
